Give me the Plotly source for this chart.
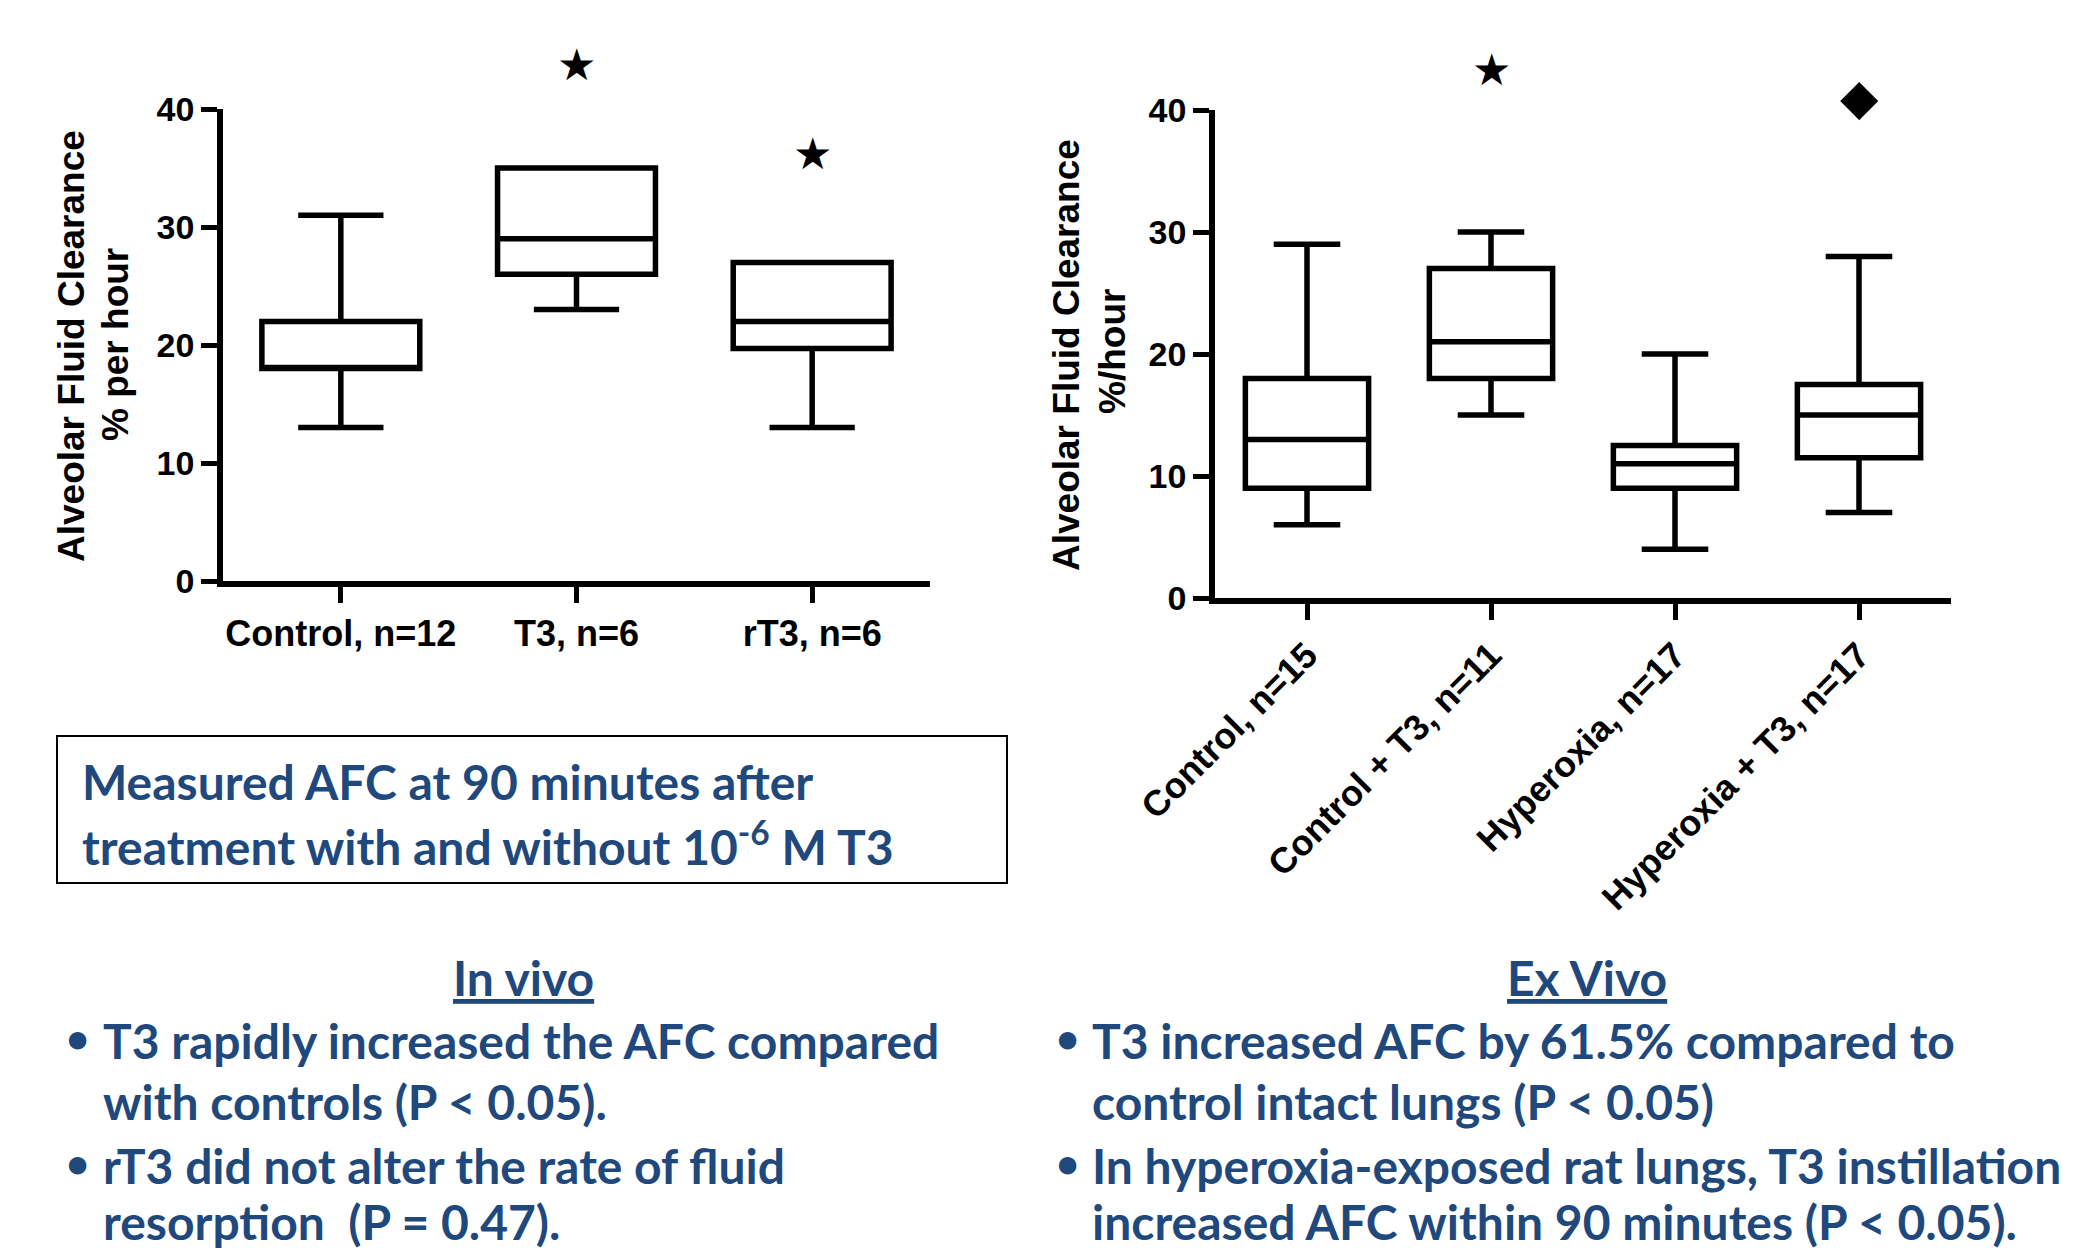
import plotly.graph_objects as go

W, H = 2075, 1251

# ---------------- data ----------------
invivo_cats = ["Control, n=12", "T3, n=6", "rT3, n=6"]
invivo_low = [13, 23, 13]
invivo_q1 = [18, 26, 19.7]
invivo_med = [18, 29, 22]
invivo_q3 = [22, 35, 27]
invivo_high = [31, 35, 27]
invivo_star_cats = ["T3, n=6", "rT3, n=6"]
invivo_star_y = [43.8, 36.2]

exvivo_cats = ["Control, n=15", "Control + T3, n=11", "Hyperoxia, n=17", "Hyperoxia + T3, n=17"]
exvivo_low = [6, 15, 4, 7]
exvivo_q1 = [9, 18, 9, 11.5]
exvivo_med = [13, 21, 11, 15]
exvivo_q3 = [18, 27, 12.5, 17.5]
exvivo_high = [29, 30, 20, 28]
exvivo_star_cats = ["Control + T3, n=11"]
exvivo_star_y = [43.3]
exvivo_diamond_cats = ["Hyperoxia + T3, n=17"]
exvivo_diamond_y = [41.1]

y_range = [0, 40]
y_ticks = [0, 10, 20, 30, 40]

BLUE = "#1F497D"
AXFONT = "Liberation Sans, Arial, sans-serif"
TXFONT = "Lato, Carlito, Calibri, sans-serif"
SYMFONT = "DejaVu Sans, sans-serif"

OFF = 8  # page body margin


def px(x):
    return (x - OFF) / W


def py(y):
    return 1 - (y - OFF) / H


def ydom(v):
    return (v - y_range[0]) / (y_range[1] - y_range[0])


fig = go.Figure()

box_style = dict(
    fillcolor="white",
    line=dict(color="black", width=5.5),
    whiskerwidth=0.54,
    width=0.67,
    boxpoints=False,
    hoverinfo="skip",
    showlegend=False,
)

fig.add_trace(go.Box(
    x=invivo_cats, q1=invivo_q1, median=invivo_med, q3=invivo_q3,
    lowerfence=invivo_low, upperfence=invivo_high,
    xaxis="x", yaxis="y", **box_style))

fig.add_trace(go.Box(
    x=exvivo_cats, q1=exvivo_q1, median=exvivo_med, q3=exvivo_q3,
    lowerfence=exvivo_low, upperfence=exvivo_high,
    xaxis="x2", yaxis="y2", **box_style))

common_x = dict(
    type="category", showline=True, linewidth=5.5, linecolor="black",
    ticks="outside", ticklen=16, tickwidth=5, tickcolor="black",
    showgrid=False, zeroline=False, fixedrange=True, automargin=False,
    tickfont=dict(family=AXFONT, size=36, color="black", weight="bold"),
)
common_y = dict(
    range=y_range, tickvals=y_ticks, showline=True, linewidth=5.5,
    linecolor="black", ticks="outside", ticklen=16, tickwidth=5,
    tickcolor="black", showgrid=False, zeroline=False, fixedrange=True,
    automargin=False,
    tickfont=dict(family=AXFONT, size=34, color="black", weight="bold"),
)

fig.update_layout(
    width=W, height=H,
    margin=dict(l=0, r=0, t=0, b=0, autoexpand=False),
    paper_bgcolor="white", plot_bgcolor="white",
    xaxis=dict(domain=[px(223), px(930)], range=[-0.5, 2.5], anchor="y",
               categoryorder="array", categoryarray=invivo_cats, **common_x),
    yaxis=dict(domain=[py(581), py(109)], anchor="x", **common_y),
    xaxis2=dict(domain=[px(1215), px(1951)], range=[-0.5, 3.5], anchor="y2",
                tickangle=-45, categoryorder="array", categoryarray=exvivo_cats,
                **common_x),
    yaxis2=dict(domain=[py(598), py(110)], anchor="x2", **common_y),
)

annotations = []

# significance markers: x in category coords, y as fraction of the y range
for c, v in zip(invivo_star_cats, invivo_star_y):
    annotations.append(dict(text="★", x=c, y=ydom(v), xref="x", yref="y domain",
                            showarrow=False, xanchor="center", yanchor="middle",
                            font=dict(family=SYMFONT, size=44, color="black")))
for c, v in zip(exvivo_star_cats, exvivo_star_y):
    annotations.append(dict(text="★", x=c, y=ydom(v), xref="x2", yref="y2 domain",
                            showarrow=False, xanchor="center", yanchor="middle",
                            font=dict(family=SYMFONT, size=44, color="black")))
for c, v in zip(exvivo_diamond_cats, exvivo_diamond_y):
    annotations.append(dict(text="◆", x=c, y=ydom(v), xref="x2", yref="y2 domain",
                            showarrow=False, xanchor="center", yanchor="middle",
                            font=dict(family=SYMFONT, size=50, color="black")))


def ytitle(text, x, y):
    annotations.append(dict(
        text=text, x=px(x), y=py(y), xref="paper", yref="paper",
        xanchor="center", yanchor="middle", textangle=-90, showarrow=False,
        font=dict(family=AXFONT, size=37, color="black", weight="bold")))


ytitle("Alveolar Fluid Clearance", 71, 346)
ytitle("% per hour", 116, 345)
ytitle("Alveolar Fluid Clearance", 1066, 355)
ytitle("%/hour", 1112, 352)


def blue(text, x, y, size=48, anchor="left"):
    annotations.append(dict(
        text=text, x=px(x), y=py(y), xref="paper", yref="paper",
        xanchor=anchor, yanchor="middle", showarrow=False,
        font=dict(family=TXFONT, size=size, color=BLUE, weight="bold")))


# boxed caption
blue("Measured AFC at 90 minutes after", 80, 781)
blue("treatment with and without 10<sup>-6</sup> M T3", 80, 843)

# In vivo
blue("<u>In vivo</u>", 523, 977, anchor="center")
blue("•", 77, 1038, size=40, anchor="center")
blue("T3 rapidly increased the AFC compared", 101, 1040)
blue("with controls (P &lt; 0.05).", 101, 1101)
blue("•", 77, 1163, size=40, anchor="center")
blue("rT3 did not alter the rate of fluid", 101, 1165)
blue("resorption  (P = 0.47).", 101, 1221)

# Ex vivo
blue("<u>Ex Vivo</u>", 1587, 977, anchor="center")
blue("•", 1067, 1038, size=40, anchor="center")
blue("T3 increased AFC by 61.5% compared to", 1090, 1040)
blue("control intact lungs (P &lt; 0.05)", 1090, 1101)
blue("•", 1067, 1163, size=40, anchor="center")
blue("In hyperoxia-exposed rat lungs, T3 instillation", 1090, 1165)
blue("increased AFC within 90 minutes (P &lt; 0.05).", 1090, 1221)

fig.update_layout(annotations=annotations)

fig.add_shape(type="rect", xref="paper", yref="paper",
              x0=px(57), x1=px(1007), y0=py(883), y1=py(736),
              line=dict(color="black", width=2), fillcolor="rgba(0,0,0,0)")

fig.write_html("out.html")
